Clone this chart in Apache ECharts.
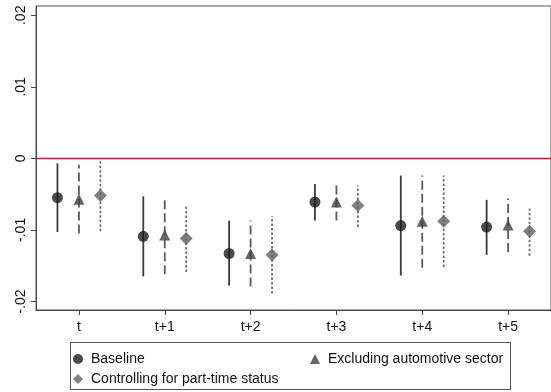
<!DOCTYPE html>
<html>
<head>
<meta charset="utf-8">
<script src="https://cdn.jsdelivr.net/npm/echarts@6/dist/echarts.min.js"></script>
<style>
  html, body { margin: 0; padding: 0; background: #fff; }
  #chart { width: 551px; height: 392px; }
</style>
</head>
<body>
<div id="chart"></div>
<script>
// Horizons and tick labels
const periods = ['t', 't+1', 't+2', 't+3', 't+4', 't+5'];
const yTicks = [-0.02, -0.01, 0, 0.01, 0.02];

// Baseline: point estimate and 95% interval
const baseEst = [-0.0055, -0.0109, -0.0133, -0.0061, -0.0094, -0.0096];
const baseLo  = [-0.0103, -0.0165, -0.0178, -0.0087, -0.0164, -0.0135];
const baseHi  = [-0.0007, -0.0053, -0.0087, -0.0036, -0.0024, -0.0058];

// Excluding automotive sector
const autoEst = [-0.0057, -0.0107, -0.0133, -0.0061, -0.0088, -0.0093];
const autoLo  = [-0.0105, -0.0162, -0.0179, -0.0087, -0.0153, -0.0131];
const autoHi  = [-0.0009, -0.0054, -0.0087, -0.0036, -0.0024, -0.0056];

// Controlling for part-time status
const ptEst = [-0.0052, -0.0112, -0.0135, -0.0066, -0.0088, -0.0102];
const ptLo  = [-0.0102, -0.0159, -0.0189, -0.0096, -0.0152, -0.0136];
const ptHi  = [-0.0002, -0.0067, -0.0081, -0.0038, -0.0024, -0.0070];

const FONT = 'Liberation Sans, Arial, sans-serif';

const specs = [
  { name: 'Baseline', est: baseEst, lo: baseLo, hi: baseHi, shift: -0.25,
    symbol: 'circle', size: 11, color: '#1c1c1c', lineColor: '#3a3a3a', dash: null },
  { name: 'Excluding automotive sector', est: autoEst, lo: autoLo, hi: autoHi, shift: 0,
    symbol: 'triangle', size: 11, color: '#404040', lineColor: '#5a5a5a', dash: [9, 4] },
  { name: 'Controlling for part-time status', est: ptEst, lo: ptLo, hi: ptHi, shift: 0.25,
    symbol: 'diamond', size: 13, color: '#626262', lineColor: '#6e6e6e', dash: [2.5, 2] }
];

const series = [];
specs.forEach(function (s, k) {
  // confidence-interval whiskers
  series.push({
    type: 'custom',
    name: s.name + ' CI',
    data: periods.map(function (p, i) { return [i + s.shift, s.lo[i], s.hi[i]]; }),
    encode: { x: 0, y: [1, 2] },
    z: 2,
    renderItem: function (params, api) {
      const a = api.coord([api.value(0), api.value(1)]);
      const b = api.coord([api.value(0), api.value(2)]);
      return {
        type: 'line',
        shape: { x1: a[0], y1: a[1], x2: b[0], y2: b[1] },
        style: { stroke: s.lineColor, lineWidth: 1.8, lineDash: s.dash }
      };
    },
    markLine: k === 0 ? {
      silent: true,
      symbol: ['none', 'none'],
      label: { show: false },
      lineStyle: { color: '#d0103a', width: 1.4, type: 'solid' },
      data: [{ yAxis: 0 }]
    } : undefined
  });
  // point estimates
  series.push({
    type: 'scatter',
    name: s.name,
    data: periods.map(function (p, i) { return [i + s.shift, s.est[i]]; }),
    symbol: s.symbol,
    symbolSize: s.size,
    itemStyle: { color: s.color },
    z: 3
  });
});

function yFmt(v) {
  if (Math.abs(v) < 1e-9) return '0';
  const t = Math.round(Math.abs(v) * 100);
  return (v < 0 ? '-' : '') + '.' + (t < 10 ? '0' + t : '' + t);
}

function legendAt(name, left, top) {
  return {
    data: [name],
    left: left, top: top,
    padding: 0,
    itemWidth: 10, itemHeight: 10,
    selectedMode: false,
    textStyle: { fontSize: 14, color: '#111', fontFamily: FONT, padding: [0, 0, 0, 3] }
  };
}

const chart = echarts.init(document.getElementById('chart'), null, { renderer: 'canvas' });
chart.setOption({
  animation: false,
  backgroundColor: '#fff',
  textStyle: { fontFamily: FONT },
  grid: { left: 36, top: 6, width: 519, height: 304, show: true, borderColor: '#555', borderWidth: 1, backgroundColor: 'transparent' },
  xAxis: {
    type: 'value',
    min: -0.5,
    max: 5.5,
    splitLine: { show: false },
    axisLine: { show: true, onZero: false, lineStyle: { color: '#444', width: 1 } },
    axisTick: { show: true, length: 5, lineStyle: { color: '#444' }, customValues: [0, 1, 2, 3, 4, 5] },
    axisLabel: {
      customValues: [0, 1, 2, 3, 4, 5],
      margin: 10,
      color: '#111',
      fontSize: 14,
      fontFamily: FONT,
      formatter: function (v) { return periods[Math.round(v)]; }
    }
  },
  yAxis: {
    type: 'value',
    min: -0.0212,
    max: 0.0213,
    splitLine: { show: false },
    axisLine: { show: true, onZero: false, lineStyle: { color: '#444', width: 1 } },
    axisTick: { show: true, length: 5, lineStyle: { color: '#444' }, customValues: yTicks },
    axisLabel: {
      customValues: yTicks,
      rotate: 90,
      margin: 8,
      color: '#111',
      fontSize: 14,
      fontFamily: FONT,
      formatter: yFmt
    }
  },
  legend: [
    legendAt('Baseline', 73, 352),
    legendAt('Controlling for part-time status', 73, 372),
    legendAt('Excluding automotive sector', 310, 352)
  ],
  graphic: [
    {
      type: 'rect',
      shape: { x: 70.5, y: 342.5, width: 440, height: 47 },
      style: { fill: 'none', stroke: '#555', lineWidth: 1 },
      silent: true,
      z: -1
    }
  ],
  series: series
});
</script>
</body>
</html>
